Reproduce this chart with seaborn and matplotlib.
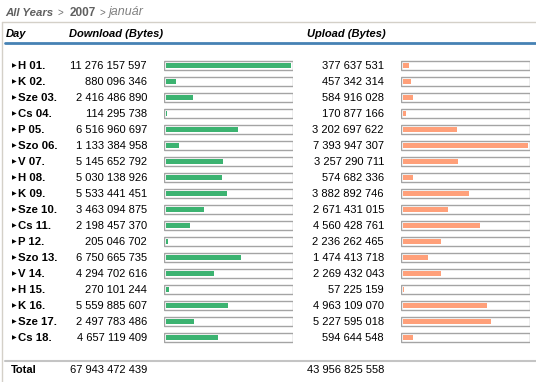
"""Daily traffic table for 2007 január: download / upload bytes with inline bars."""
import matplotlib.pyplot as plt
from matplotlib.patches import Rectangle
from matplotlib.lines import Line2D
import seaborn as sns

days = [
    "H 01.", "K 02.", "Sze 03.", "Cs 04.", "P 05.", "Szo 06.", "V 07.", "H 08.",
    "K 09.", "Sze 10.", "Cs 11.", "P 12.", "Szo 13.", "V 14.", "H 15.", "K 16.",
    "Sze 17.", "Cs 18.",
]
download = [
    11276157597, 880096346, 2416486890, 114295738, 6516960697, 1133384958,
    5145652792, 5030138926, 5533441451, 3463094875, 2198457370, 205046702,
    6750665735, 4294702616, 270101244, 5559885607, 2497783486, 4657119409,
]
upload = [
    377637531, 457342314, 584916028, 170877166, 3202697622, 7393947307,
    3257290711, 574682336, 3882892746, 2671431015, 4560428761, 2236262465,
    1474413718, 2269432043, 57225159, 4963109070, 5227595018, 594644548,
]
total_download = 67943472439
total_upload = 43956825558

W, H = 536, 382
FONT = "Liberation Sans"
GREEN = "#3cb371"
SALMON = "#ffa07a"
FRAME = "#a4a4a4"


def fx(x):
    return x / W


def fy(y):
    return 1 - y / H


def fmt(v):
    return f"{v:,}".replace(",", " ")


sns.set_theme(style="white")
plt.rcParams["font.family"] = [FONT, "DejaVu Sans"]

fig = plt.figure(figsize=(W / 100, H / 100), dpi=100)
fig.patch.set_facecolor("white")

row0, step = 65.2, 16.0
top, bottom = row0 - step / 2, row0 + step * (len(days) - 0.5)


def bar_column(values, x_frame0, x_frame1, pad, color):
    ax = fig.add_axes([fx(x_frame0), fy(bottom), (x_frame1 - x_frame0) / W,
                       (bottom - top) / H])
    scale = max(values) / (x_frame1 - x_frame0 - 2 * pad)
    for i in range(len(values)):
        ax.add_patch(Rectangle((0, i - 0.27), 1, 0.54, transform=ax.get_yaxis_transform(),
                               facecolor="white", edgecolor=FRAME, linewidth=1.0))
    sns.barplot(x=values, y=days, orient="h", color=color, saturation=1,
                width=0.32, linewidth=0, ax=ax)
    ax.set_xlim(-pad * scale, max(values) + pad * scale)
    ax.set_ylim(len(values) - 0.5, -0.5)
    ax.axis("off")
    return ax


bar_column(download, 164, 293, 2, GREEN)
bar_column(upload, 401, 530, 2, SALMON)

# frame lines
fig.add_artist(Line2D([fx(2), fx(536)], [fy(22), fy(22)], color="#d4d0c8", lw=1))
fig.add_artist(Line2D([fx(2), fx(2)], [fy(22), fy(382)], color="#d4d0c8", lw=1))
fig.add_artist(Line2D([fx(5), fx(536)], [fy(42.7), fy(42.7)], color="#4682b4", lw=2))
fig.add_artist(Line2D([fx(5), fx(536)], [fy(361), fy(361)], color="#c4c4c4", lw=1.5))

# breadcrumb
crumbs = [("All Years", 5, 8.2, "bold", "italic", "#606060"),
          (">", 57, 7, "normal", "normal", "#707070"),
          ("2007", 70, 8.5, "bold", "normal", "#606060"),
          (">", 100, 7, "normal", "normal", "#707070"),
          ("január", 108, 9, "normal", "italic", "#808080")]
for txt, xpos, size, weight, style, col in crumbs:
    fig.text(fx(xpos), fy(12.5), txt, fontsize=size, fontweight=weight, fontstyle=style,
             color=col, va="center", ha="left")

# headers
for label, xpos in [("Day", 6), ("Download (Bytes)", 69), ("Upload (Bytes)", 307)]:
    fig.text(fx(xpos), fy(34), label, fontsize=8, fontweight="bold", fontstyle="italic",
             color="black", va="center", ha="left")

# rows
for i, (d, dl, ul) in enumerate(zip(days, download, upload)):
    y = row0 + step * i + 0.5
    fig.text(fx(11.5), fy(y), "▶", fontsize=4.3, family="DejaVu Sans", color="black",
             va="center", ha="left")
    fig.text(fx(18), fy(y), d, fontsize=8.2, fontweight="bold", color="black",
             va="center", ha="left")
    fig.text(fx(147), fy(y), fmt(dl), fontsize=8, color="black", va="center", ha="right")
    fig.text(fx(384), fy(y), fmt(ul), fontsize=8, color="black", va="center", ha="right")

fig.text(fx(11), fy(370), "Total", fontsize=8, fontweight="bold", color="black",
         va="center", ha="left")
fig.text(fx(147), fy(370), fmt(total_download), fontsize=8, color="black",
         va="center", ha="right")
fig.text(fx(384), fy(370), fmt(total_upload), fontsize=8, color="black",
         va="center", ha="right")

fig.savefig("out.png", dpi=100)
plt.close(fig)
